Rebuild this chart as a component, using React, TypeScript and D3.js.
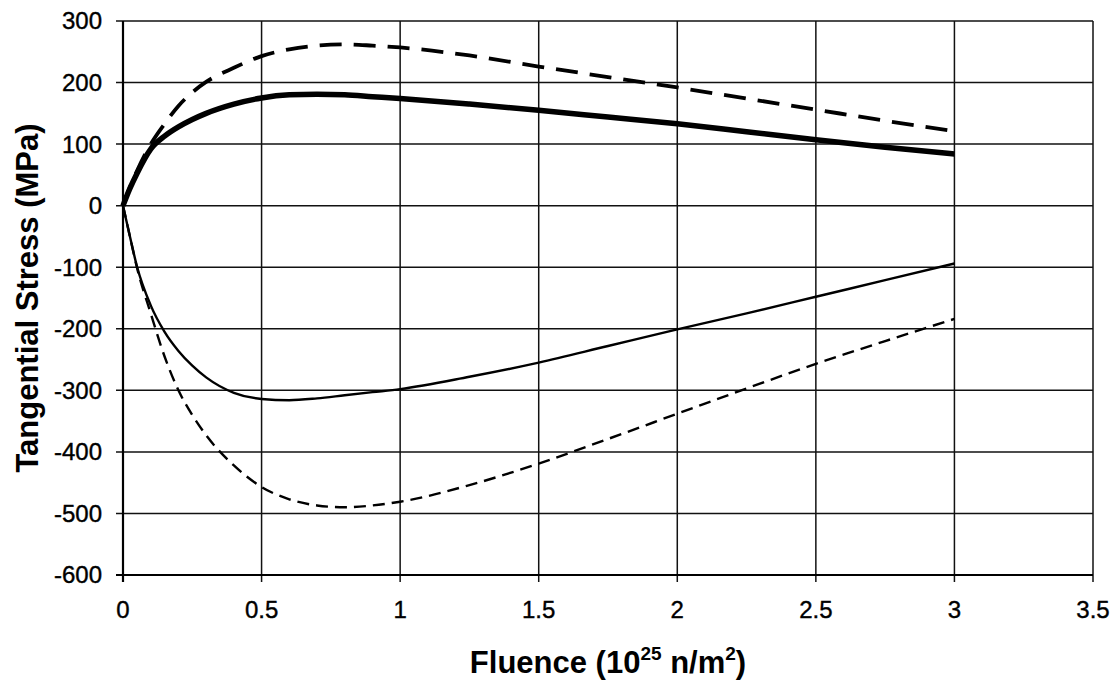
import React from "react";
import * as d3 from "d3";

// fluence (10^25 n/m^2) sample points shared by every curve
const fluence = [0, 0.025, 0.05, 0.1, 0.15, 0.2, 0.25, 0.3, 0.4, 0.5, 0.6, 0.7, 0.8, 0.9, 1.0, 1.25, 1.5, 1.75, 2.0, 2.25, 2.5, 2.75, 3.0];

// tangential stress (MPa)
const thickSolid = [0, 28, 52, 92, 113, 128, 140, 150, 165, 175, 180, 181, 180, 177, 174, 165, 155, 144, 133, 120, 107, 95, 84];
const longDash = [0, 30, 56, 100, 133, 162, 184, 201, 224, 243, 254, 260, 262, 260, 257, 244, 226, 209, 192, 174, 156, 138, 121];
const thinSolid = [0, -50, -98, -162, -205, -236, -260, -279, -304, -314, -316, -313, -308, -303, -298, -278, -255, -228, -201, -175, -148, -121, -94];
const shortDash = [0, -50, -100, -175, -245, -300, -340, -373, -422, -457, -477, -487, -490, -487, -481, -454, -419, -379, -338, -297, -257, -220, -184];

const xTicks = [0, 0.5, 1, 1.5, 2, 2.5, 3, 3.5];
const yTicks = [300, 200, 100, 0, -100, -200, -300, -400, -500, -600];

const series = [
  { values: thinSolid, width: 2.4, dash: "" },
  { values: shortDash, width: 2.4, dash: "12,7" },
  { values: longDash, width: 3.8, dash: "22,12" },
  { values: thickSolid, width: 5.5, dash: "" },
];

export default function App() {
  const width = 1117;
  const height = 681;
  const margin = { top: 21, right: 24, bottom: 106, left: 123 };
  const font = "'Liberation Sans', Arial, sans-serif";

  const x = d3.scaleLinear().domain([0, 3.5]).range([margin.left, width - margin.right]);
  const y = d3.scaleLinear().domain([-600, 300]).range([height - margin.bottom, margin.top]);

  const line = d3
    .line<number>()
    .x((d, i) => x(fluence[i]))
    .y((d) => y(d))
    .curve(d3.curveMonotoneX);

  return (
    <svg
      width={width}
      height={height}
      style={{ position: "absolute", left: 0, top: 0, background: "white" }}
    >
      {/* grid */}
      <g stroke="#111" strokeWidth={1.5}>
        {xTicks.map((t) => (
          <line key={"gx" + t} x1={x(t)} x2={x(t)} y1={y(300)} y2={y(-600) + 7} />
        ))}
        {yTicks.map((t) => (
          <line key={"gy" + t} x1={x(0) - 7} x2={x(3.5)} y1={y(t)} y2={y(t)} />
        ))}
      </g>
      <line x1={x(0)} x2={x(0)} y1={y(300)} y2={y(-600) + 7} stroke="#000" strokeWidth={2.2} />
      <line x1={x(0) - 7} x2={x(3.5)} y1={y(-600)} y2={y(-600)} stroke="#000" strokeWidth={2.2} />

      {/* curves */}
      {series.map((s, i) => (
        <path
          key={i}
          d={line(s.values) || ""}
          fill="none"
          stroke="#000"
          strokeWidth={s.width}
          strokeDasharray={s.dash}
        />
      ))}

      {/* tick labels */}
      <g fontFamily={font} fontSize={24} fill="#000" stroke="#000" strokeWidth={0.4}>
        {yTicks.map((t) => (
          <text key={"ly" + t} x={x(0) - 21} y={y(t)} dy="0.35em" textAnchor="end">
            {t}
          </text>
        ))}
        {xTicks.map((t) => (
          <text key={"lx" + t} x={x(t)} y={y(-600) + 43} textAnchor="middle">
            {t}
          </text>
        ))}
      </g>

      {/* axis titles */}
      <text
        transform={`translate(38,${(y(300) + y(-600)) / 2}) rotate(-90)`}
        textAnchor="middle"
        fontFamily={font}
        fontSize={31}
        fontWeight="bold"
      >
        Tangential Stress (MPa)
      </text>
      <text
        x={(x(0) + x(3.5)) / 2}
        y={673}
        textAnchor="middle"
        fontFamily={font}
        fontSize={31}
        fontWeight="bold"
      >
        Fluence (10
        <tspan fontSize={19} dy={-13}>25</tspan>
        <tspan dy={13}> n/m</tspan>
        <tspan fontSize={19} dy={-13}>2</tspan>
        <tspan dy={13}>)</tspan>
      </text>
    </svg>
  );
}
